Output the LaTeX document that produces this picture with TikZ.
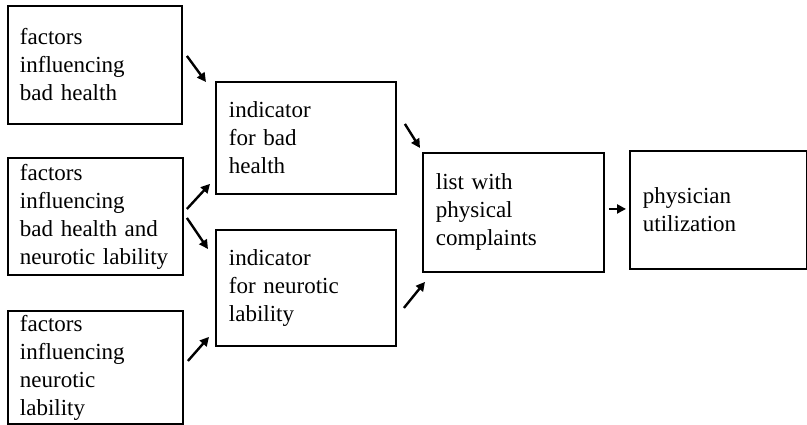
\documentclass[tikz,border=0pt]{standalone}
\usepackage{fontspec}
\setmainfont{Liberation Serif}
\usetikzlibrary{arrows.meta,calc}
\begin{document}
\begin{tikzpicture}[x=1pt,y=-1pt,
  box/.style={draw, line width=1.9pt, anchor=north west, inner xsep=12pt, inner ysep=0pt,
    align=left, font=\fontsize{23}{28}\selectfont},
  arr/.style={line width=2.4pt, -{Triangle[length=9pt,width=9pt]}}]
\useasboundingbox (0,0) rectangle (807,425);
\node[box, minimum width=174pt, minimum height=118pt, text width=150pt] (b1) at (7,5)
  {factors\\influencing\\bad health};
\node[box, minimum width=175pt, minimum height=117pt, text width=151pt] (b2) at (7,157)
  {factors\\influencing\\bad health and\\neurotic~lability};
\node[box, minimum width=175pt, minimum height=113pt, text width=151pt] (b3) at (7,310)
  {factors\\influencing\\neurotic\\lability};
\node[box, minimum width=180pt, minimum height=112pt, text width=154pt, inner xsep=13pt] (b4) at (215,81)
  {indicator\\for bad\\health};
\node[box, minimum width=180pt, minimum height=116pt, text width=154pt, inner xsep=13pt] (b5) at (215,229)
  {indicator\\for neurotic\\lability};
\node[box, minimum width=181pt, minimum height=119pt, text width=155pt, inner xsep=13pt] (b6) at (422,152)
  {list with\\physical\\complaints};
\node[box, minimum width=177pt, minimum height=118pt, text width=151pt, inner xsep=13pt] (b7) at (629,150)
  {physician\\utilization};
\draw[arr] ($(b1.east)+(4,-9)$) -- ($(b4.north west)+(-9,1)$);
\draw[arr] ($(b2.east)+(3,-7.5)$) -- ($(b4.south west)+(-5,-11)$);
\draw[arr] ($(b2.east)+(3,1.5)$) -- ($(b5.north west)+(-7,20)$);
\draw[arr] ($(b3.east)+(4,-6.5)$) -- ($(b5.south west)+(-6,-10)$);
\draw[arr] ($(b4.east)+(8,-14)$) -- ($(b6.north west)+(-2,-4)$);
\draw[arr] ($(b5.east)+(7,20)$) -- ($(b6.south west)+(3,9)$);
\draw[arr] ($(b6.east)+(4,-3.5)$) -- ($(b7.west)+(-3,-1)$);
\end{tikzpicture}
\end{document}
